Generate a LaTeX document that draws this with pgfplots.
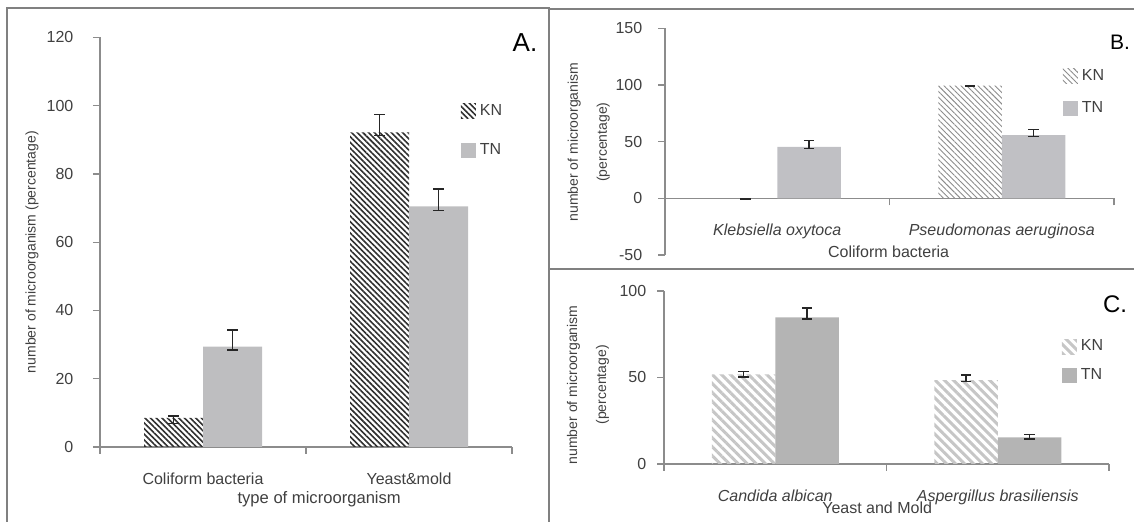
\documentclass[border=0pt]{standalone}
\usepackage{pgfplots}
\pgfplotsset{compat=1.18}
\usetikzlibrary{patterns.meta}
\usepackage{fontspec}
\setmainfont{Liberation Sans}

\definecolor{txt}{HTML}{404040}
\definecolor{axgray}{HTML}{8C8C8C}
\definecolor{framegray}{HTML}{808080}
\definecolor{tnA}{HTML}{BEBEC0}
\definecolor{tnB}{HTML}{C0C0C4}
\definecolor{tnC}{HTML}{B4B4B4}
\definecolor{knA}{HTML}{303030}
\definecolor{knB}{HTML}{8C8C8C}
\definecolor{knC}{HTML}{C6C6C6}

\pgfplotsset{
  common/.style={
    scale only axis,
    axis y line*=left,
    axis line style={axgray, line width=0.6pt},
    xmin=-0.5, xmax=1.5,
    xtick={0,1},
    major x tick style={draw=none},
    minor xtick={-0.5,0.5,1.5},
    minor x tick style={axgray, line width=0.6pt},
    minor tick length=3.5pt,
    major tick length=3.5pt,
    tick align=outside,
    ytick style={axgray, line width=0.6pt},
    hide obscured x ticks=false,
    hide obscured y ticks=false,
    ticklabel style={font=\fontsize{8}{9.6}\selectfont, text=txt},
    /pgf/number format/assume math mode=true,
    xticklabel style={anchor=base, yshift=-15.2pt},
    ybar=0pt,
    clip=false,
    legend style={draw=none, fill=none, inner sep=0pt, outer sep=0pt, anchor=north west,
      font=\fontsize{8}{9.6}\selectfont, text=txt,
      /tikz/every even column/.append style={column sep=3.5pt}},
    legend cell align=left,
    legend image code/.code={\path[#1] (0pt,-3.75pt) rectangle (7.5pt,3.75pt);},
    label style={text=txt},
  },
  errs/.style={
    error bars/y dir=both, error bars/y explicit,
    error bars/error bar style={line width=0.6pt, black!85},
    error bars/error mark options={rotate=90, mark size=2.6pt, line width=0.6pt, black!85},
  },
}

\begin{document}
\begin{tikzpicture}
\path[use as bounding box] (0,0) rectangle (567pt,261pt);
% panel frames
\draw[framegray, line width=0.6pt] (3.5pt,0pt) -- (3.5pt,257pt) -- (274.5pt,257pt) -- (274.5pt,0pt);
\draw[framegray, line width=0.6pt] (274.5pt,256.5pt) -- (567pt,256.5pt);
\draw[framegray, line width=0.6pt] (274.5pt,126.5pt) -- (567pt,126.5pt);

% ---------------- Panel A ----------------
\begin{axis}[common,
  at={(50pt,37.5pt)}, anchor=south west,
  width=206pt, height=204.75pt,
  axis x line*=bottom,
  ymin=0, ymax=120, ytick={0,20,...,120},
  bar width=29.5pt,
  yticklabel style={xshift=-6.3pt},
  xticklabels={Coliform bacteria, Yeast\&mold},
  xlabel={type of microorganism},
  xlabel style={at={(axis description cs:0.532,-0.137)}, anchor=base, font=\fontsize{8.3}{9.6}\selectfont},
  ylabel={number of microorganism (percentage)},
  ylabel style={at={(axis description cs:-0.165,0.476)}, anchor=center, font=\fontsize{7}{8.4}\selectfont},
  legend style={at={(axis description cs:0.876,0.847)}, row sep=8.5pt},
]
\addplot[draw=none, pattern={Lines[angle=-45, distance=2pt, line width=0.8pt]}, pattern color=knA, errs]
  coordinates {(0,8.5) += (0,0.6) -= (0,1.5) (1,92.2) += (0,5.2) -= (0,1.0)};
\addplot[draw=none, fill=tnA, errs]
  coordinates {(0,29.4) += (0,4.9) -= (0,1.0) (1,70.5) += (0,5.1) -= (0,1.2)};
\legend{KN, TN}
\end{axis}

% ---------------- Panel B ----------------
\begin{axis}[common,
  at={(332.5pt,133.5pt)}, anchor=south west,
  width=224.5pt, height=113.35pt,
  axis x line*=middle,
  ymin=-50, ymax=150, ytick={-50,0,50,100,150},
  bar width=31.75pt,
  yticklabel style={xshift=-4.35pt},
  xticklabels={Klebsiella oxytoca, Pseudomonas aeruginosa},
  xticklabel style={font=\fontsize{8}{9.6}\selectfont\itshape},
  xlabel={Coliform bacteria},
  xlabel style={at={(axis description cs:0.498,-0.0132)}, anchor=base, font=\fontsize{8}{9.6}\selectfont},
  ylabel={number of microorganism\\(percentage)},
  ylabel style={at={(axis description cs:-0.170,0.498)}, anchor=center, align=center, font=\fontsize{7}{14.5}\selectfont},
  legend style={at={(axis description cs:0.886,0.838)}, row sep=5pt},
]
\addplot[draw=none, pattern={Lines[angle=-45, distance=2pt, line width=0.45pt]}, pattern color=knB, errs]
  coordinates {(0,-0.5) +- (0,0.3) (1,99.4) += (0,0.4) -= (0,0.3)};
\addplot[draw=none, fill=tnB, errs]
  coordinates {(0,45.3) += (0,5.6) -= (0,1.2) (1,55.8) += (0,5.1) -= (0,1.4)};
\legend{KN, TN}
\end{axis}

% ---------------- Panel C ----------------
\begin{axis}[common,
  at={(332pt,29pt)}, anchor=south west,
  width=222.5pt, height=86.5pt,
  axis x line*=bottom,
  ymin=0, ymax=100, ytick={0,50,100},
  bar width=31.75pt,
  yticklabel style={xshift=-1.85pt},
  xticklabels={Candida albican, Aspergillus brasiliensis},
  xticklabel style={font=\fontsize{8}{9.6}\selectfont\itshape},
  xlabel={Yeast and Mold},
  xlabel style={at={(axis description cs:0.479,-0.285)}, anchor=base, font=\fontsize{8}{9.6}\selectfont},
  ylabel={number of microorganism\\(percentage)},
  ylabel style={at={(axis description cs:-0.171,0.457)}, anchor=center, align=center, font=\fontsize{7}{14.5}\selectfont},
  legend style={at={(axis description cs:0.894,0.740)}, row sep=3.5pt},
]
\addplot[draw=none, pattern={Lines[angle=-45, distance=3.2pt, line width=1.5pt]}, pattern color=knC, errs]
  coordinates {(0,51.8) += (0,1.6) -= (0,1.5) (1,48.5) += (0,2.9) -= (0,0.9)};
\addplot[draw=none, fill=tnC, errs]
  coordinates {(0,84.8) += (0,5.4) -= (0,1.0) (1,15.4) += (0,1.8) -= (0,0.9)};
\legend{KN, TN}
\end{axis}

% panel letters
\node[font=\fontsize{13}{15}\selectfont] at (262.5pt,239.5pt) {A.};
\node[font=\fontsize{10.5}{12}\selectfont] at (560pt,240pt) {B.};
\node[font=\fontsize{12}{14}\selectfont] at (557.5pt,109pt) {C.};
\end{tikzpicture}
\end{document}
